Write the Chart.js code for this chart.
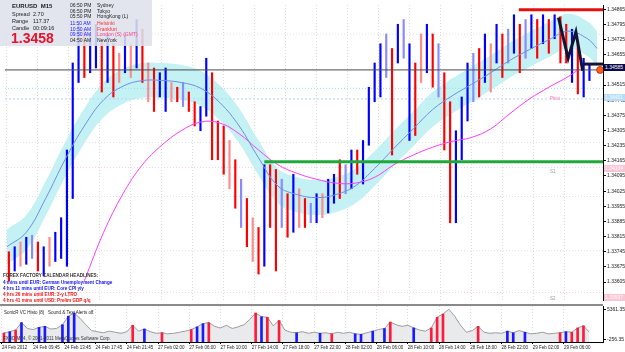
<!DOCTYPE html>
<html>
<head>
<meta charset="utf-8">
<title>EURUSD M15</title>
<script src="https://cdn.jsdelivr.net/npm/chart.js@4.4.1/dist/chart.umd.min.js"></script>
<style>
  body { margin: 0; width: 625px; height: 352px; overflow: hidden; position: relative; background: #fff; font-family: "Liberation Sans", Arial, sans-serif; }
  canvas { position: absolute; left: 0; }
  #main { top: 0; }
  #sub { top: 305px; }
  .t { position: absolute; white-space: nowrap; line-height: 1; }
  #sep { position: absolute; left: 0; top: 304px; width: 603px; height: 2px; background: #8a8a8a; }
  #info { position: absolute; left: 0; top: 0; width: 152px; height: 46px; background: rgba(222, 224, 236, 0.88); }
  #info .t { font-size: 5px; color: #222; }
  .hl { font-size: 4.6px; font-weight: bold; left: 3px; }
  .box { position: absolute; left: 604px; width: 21px; height: 7px; font-size: 5px; line-height: 7px; padding-left: 1px; box-sizing: border-box; }
</style>
</head>
<body>
<canvas id="main" width="625" height="305"></canvas>
<canvas id="sub" width="625" height="47"></canvas>
<div id="sep"></div>

<div id="info">
  <div class="t" style="left:12px;top:3px;font-size:6px;font-weight:bold;">EURUSD&nbsp;&nbsp;M15</div>
  <div class="t" style="left:12px;top:11.5px;font-size:5.5px;">Spread</div>
  <div class="t" style="left:33px;top:11.5px;font-size:5.5px;">2.70</div>
  <div class="t" style="left:12px;top:18.5px;font-size:5.5px;">Range</div>
  <div class="t" style="left:33px;top:18.5px;font-size:5.5px;">117.37</div>
  <div class="t" style="left:12px;top:25.5px;font-size:5.5px;">Candle</div>
  <div class="t" style="left:33px;top:25.5px;font-size:5.5px;">00:09:16</div>
  <div class="t" style="left:11px;top:31px;font-size:14px;font-weight:bold;color:#e8102a;">1.3458</div>

  <div class="t" style="left:70px;top:3px;">06:50 PM</div>
  <div class="t" style="left:97px;top:3px;">Sydney</div>
  <div class="t" style="left:70px;top:8.5px;">06:50 PM</div>
  <div class="t" style="left:97px;top:8.5px;">Tokyo</div>
  <div class="t" style="left:70px;top:14px;">05:50 PM</div>
  <div class="t" style="left:97px;top:14px;">HongKong (L)</div>
  <div class="t" style="left:70px;top:21px;color:#2020ff;">11:50 AM</div>
  <div class="t" style="left:97px;top:21px;color:#ff3030;">Helsinki</div>
  <div class="t" style="left:70px;top:26.5px;color:#2020ff;">10:50 AM</div>
  <div class="t" style="left:97px;top:26.5px;color:#ff3030;">Frankfurt</div>
  <div class="t" style="left:70px;top:32px;color:#2020ff;">09:50 AM</div>
  <div class="t" style="left:97px;top:32px;color:#ff4080;">London (S) (GMT)</div>
  <div class="t" style="left:70px;top:37.5px;">04:50 AM</div>
  <div class="t" style="left:97px;top:37.5px;">NewYork</div>
</div>

<div class="t hl" style="top:273.5px;color:#333;">FOREX FACTORY CALENDAR HEADLINES:</div>
<div class="t hl" style="top:281px;color:#1010ff;">4 mins until EUR: German Unemployment Change</div>
<div class="t hl" style="top:287px;color:#1010ff;">4 hrs 11 mins until EUR: Core CPI y/y</div>
<div class="t hl" style="top:292.5px;color:#ff1010;">4 hrs 26 mins until EUR: 3-y LTRO</div>
<div class="t hl" style="top:298.5px;color:#ff1010;">4 hrs 41 mins until USD: Prelim GDP q/q</div>

<div class="t" style="left:550px;top:96.5px;font-size:4.5px;color:#ff70b0;">Pivot</div>
<div class="t" style="left:550px;top:169.5px;font-size:4.5px;color:#999;">S1</div>
<div class="t" style="left:550px;top:296.5px;font-size:4.5px;color:#999;">S2</div>

<div class="t" style="left:4px;top:310.5px;font-size:4.5px;color:#222;">SonicR VC Histo (8)&nbsp;&nbsp;&nbsp;Sound &amp; Text Alerts off.</div>
<div class="t" style="left:3px;top:336.5px;font-size:4.5px;color:#333;">FXDD MT4, © 2001-2011 MetaQuotes Software Corp.</div>

<div class="box" style="top:64px;background:#0a0a4a;color:#fff;">1.34585</div>
<div class="box" style="top:94px;background:#b8ddf8;color:#f4faff;">1.34451</div>
<div class="box" style="top:165px;background:#ffc4d4;color:#fff;">1.34134</div>
<div class="box" style="top:294px;background:#ffc4d4;color:#fff;">1.33557</div>

<script>
// candle i sits on M15 bar firstBar + barStep * i (every 3rd bar is drawn)
const firstBar = 1, barStep = 3;

const highs = [
  1.33745, 1.33768, 1.33790, 1.33812, 1.33821, 1.33790, 1.33768, 1.33812, 1.33835, 1.33902,
  1.34215, 1.34617, 1.34796, 1.34773, 1.34751, 1.34796, 1.34729, 1.34751, 1.34706, 1.34662,
  1.34751, 1.34706, 1.34818, 1.34773, 1.34617, 1.34594, 1.34572, 1.34594, 1.34527, 1.34505,
  1.34527, 1.34483, 1.34438, 1.34416, 1.34639, 1.34572, 1.34349, 1.34326, 1.34259, 1.34170,
  1.34080, 1.33991, 1.33902, 1.33857, 1.34147, 1.34147, 1.34125, 1.34080, 1.34013, 1.34103,
  1.34036, 1.33991, 1.33969, 1.34013, 1.34013, 1.34080, 1.34103, 1.34170, 1.34147, 1.34215,
  1.34215, 1.34259, 1.34505, 1.34617, 1.34706, 1.34751, 1.34684, 1.34796, 1.34818, 1.34706,
  1.34617, 1.34751, 1.34796, 1.34751, 1.34706, 1.34572, 1.34438, 1.34304, 1.34460, 1.34617,
  1.34662, 1.34684, 1.34751, 1.34706, 1.34796, 1.34751, 1.34773, 1.34840, 1.34796, 1.34818,
  1.34840, 1.34818, 1.34840, 1.34818, 1.34840, 1.34831, 1.34796, 1.34773, 1.34706, 1.34639,
  1.34608
];
const lows = [
  1.33611, 1.33656, 1.33678, 1.33687, 1.33714, 1.33656, 1.33633, 1.33678, 1.33700, 1.33714,
  1.33678, 1.33991, 1.34527, 1.34550, 1.34572, 1.34594, 1.34483, 1.34527, 1.34460, 1.34527,
  1.34572, 1.34550, 1.34594, 1.34527, 1.34438, 1.34393, 1.34460, 1.34393, 1.34438, 1.34438,
  1.34416, 1.34393, 1.34326, 1.34304, 1.34371, 1.34170, 1.34170, 1.34103, 1.34036, 1.33946,
  1.33857, 1.33768, 1.33700, 1.33642, 1.33678, 1.33857, 1.33656, 1.33857, 1.33812, 1.33835,
  1.33857, 1.33857, 1.33879, 1.33879, 1.33902, 1.33924, 1.33969, 1.33991, 1.34013, 1.34036,
  1.34103, 1.34058, 1.34237, 1.34438, 1.34460, 1.34550, 1.34192, 1.34617, 1.34639, 1.34259,
  1.34282, 1.34527, 1.34572, 1.34505, 1.34460, 1.34215, 1.33879, 1.33879, 1.34170, 1.34349,
  1.34438, 1.34460, 1.34527, 1.34483, 1.34617, 1.34550, 1.34617, 1.34662, 1.34572, 1.34639,
  1.34684, 1.34639, 1.34706, 1.34662, 1.34729, 1.34617, 1.34617, 1.34527, 1.34474, 1.34460,
  1.34536
];
// B/b = up candle (blue), R/r = down candle (red); lower case = pale
const dirs = "RBrBbRBrBB" + "BBBRBBRBRr" + "BrBRrRBBrR" + "bRRBBRRRrR" + "bRrRBRRbRB" +
             "rRbBrBBRbB" + "RBBBBbRBbB" + "RrBRbRRBBB" + "bRBrBRbBRb" + "BRBRBRRBRB" + "B";

// volume histogram (lower pane)
const vols = [
  1050, 1300, 1600, 3000, 1900, 1700, 2100, 2300, 1800, 1900,
  2600, 4200, 4800, 3800, 2600, 1500, 1300, 1100, 1400, 1200,
  1000, 1300, 2500, 1400, 1800, 1300, 1000, 1100, 900, 1000,
  1200, 1400, 1700, 2200, 2800, 3000, 2300, 2000, 2500, 1900,
  2200, 2600, 3600, 4800, 4100, 4000, 2400, 3400, 1600, 1200,
  1100, 1300, 1000, 1200, 1000, 1100, 900, 1200, 1000, 1200,
  900, 800, 1100, 1400, 1700, 1900, 3100, 2600, 2300, 2500,
  2000, 1600, 1400, 2000, 4000, 4600, 5500, 4200, 2500, 1200,
  1500, 2300, 1200, 1000, 1100, 1000, 1400, 1100, 1500, 1200,
  900, 1000, 1200, 900, 1000, 1100, 1300, 1200, 2000, 2400,
  1200
];
// which volume bars are highlighted: r = red, b = blue, . = none
const histCols = "rbrb..bb.." + "bbb......." + "..r.b..r.." + "..rbbr...." + "...rbr.r.." +
                 "b...b.r..." + "bb.b.br..." + "b..rrr...." + ".r....bb.b" + ".....rbrrr" + ".";

// moving average with its envelope band
const maBars = [0, 10, 20, 30, 40, 50, 60, 70, 80, 90, 100, 110, 120, 130, 140, 150,
                160, 170, 180, 190, 200, 210, 220, 230, 240, 250, 260, 270, 280, 290, 300, 305];
const maMid = [1.33768, 1.33835, 1.33991, 1.34170, 1.34326, 1.34447, 1.34510, 1.34536, 1.34536, 1.34527,
               1.34501, 1.34434, 1.34326, 1.34179, 1.34049, 1.34009, 1.33995, 1.34009, 1.34049, 1.34130,
               1.34223, 1.34313, 1.34402, 1.34465, 1.34518, 1.34572, 1.34630, 1.34679, 1.34724, 1.34764,
               1.34729, 1.34684];
const bandTop = [1.33848, 1.33915, 1.34071, 1.34250, 1.34407, 1.34527, 1.34590, 1.34617, 1.34617, 1.34608,
                 1.34581, 1.34514, 1.34407, 1.34259, 1.34130, 1.34089, 1.34076, 1.34089, 1.34130, 1.34210,
                 1.34304, 1.34393, 1.34483, 1.34545, 1.34599, 1.34653, 1.34711, 1.34760, 1.34805, 1.34845,
                 1.34809, 1.34764];
const bandBot = [1.33687, 1.33754, 1.33911, 1.34089, 1.34246, 1.34366, 1.34429, 1.34456, 1.34456, 1.34447,
                 1.34420, 1.34353, 1.34246, 1.34098, 1.33969, 1.33928, 1.33915, 1.33928, 1.33969, 1.34049,
                 1.34143, 1.34232, 1.34322, 1.34384, 1.34438, 1.34492, 1.34550, 1.34599, 1.34644, 1.34684,
                 1.34648, 1.34603];

// slow magenta average
const magBars = [40, 50, 60, 70, 80, 90, 100, 110, 120, 130, 140, 150, 160, 170,
                 180, 190, 200, 210, 220, 230, 240, 250, 260, 270, 280, 290, 295];
const magVals = [1.33611, 1.33835, 1.34013, 1.34147, 1.34237, 1.34304, 1.34344, 1.34340, 1.34290, 1.34215,
                 1.34147, 1.34107, 1.34080, 1.34062, 1.34062, 1.34089, 1.34147, 1.34192, 1.34228, 1.34255,
                 1.34273, 1.34313, 1.34384, 1.34451, 1.34505, 1.34554, 1.34585];

// zigzag swing line at the right
const zigBars = [285, 290, 294, 297.5];
const zigVals = [1.34827, 1.34639, 1.34760, 1.34581];

// horizontal levels
const roundLevels = [1.3475, 1.3450, 1.3425, 1.3400, 1.3375];
const bidPrice = 1.34585;
const pivotLevel = 1.34451, s1Level = 1.34134, s2Level = 1.33557;
const topLine = 1.34863, greenLine = 1.34161, swingLine = 1.34612;

const priceTicks = [1.34865, 1.34795, 1.34725, 1.34655, 1.34585, 1.34515, 1.34445, 1.34375, 1.34305, 1.34235,
                    1.34165, 1.34095, 1.34025, 1.33955, 1.33885, 1.33815, 1.33745, 1.33675, 1.33605, 1.33535];
const histTicks = [-256.35, 5361.35];
const timeLabels = ['24 Feb 2012', '24 Feb 09:45', '24 Feb 13:45', '24 Feb 17:45', '24 Feb 21:45',
                    '27 Feb 02:00', '27 Feb 06:00', '27 Feb 10:00', '27 Feb 14:00', '27 Feb 18:00',
                    '27 Feb 22:00', '28 Feb 02:00', '28 Feb 06:00', '28 Feb 10:00', '28 Feb 14:00',
                    '28 Feb 18:00', '28 Feb 22:00', '29 Feb 02:00', '29 Feb 06:00'];

// ------------------------------------------------------------
const X_MIN = -1, X_MAX = 308;
const barOf = i => firstBar + barStep * i;
const timeTickBars = timeLabels.map((_, k) => k * 16);
const colorOf = { B: '#0000ff', b: '#8a8aff', R: '#ff0000', r: '#ff8a8a' };

function hline(price, x0, x1, color, width, dash, order) {
  return {
    type: 'line',
    data: [{ x: x0, y: price }, { x: x1, y: price }],
    borderColor: color, borderWidth: width, borderDash: dash || [],
    pointRadius: 0, fill: false, order: order
  };
}

const candles = highs.map((h, i) => ({ x: barOf(i), y: [lows[i], h] }));

const mainDatasets = [
  { type: 'line', data: maBars.map((b, k) => ({ x: b, y: bandTop[k] })), borderColor: 'rgba(0,0,0,0)',
    pointRadius: 0, tension: 0.4, fill: false, order: 20 },
  { type: 'line', data: maBars.map((b, k) => ({ x: b, y: bandBot[k] })), borderColor: 'rgba(0,0,0,0)',
    backgroundColor: '#c4f1f4', pointRadius: 0, tension: 0.4, fill: '-1', order: 20 }
];
roundLevels.forEach(p => mainDatasets.push(hline(p, X_MIN, X_MAX, p === 1.3450 ? '#8fe0f0' : '#e0e0e0', 1, [1, 2], 18)));
mainDatasets.push(
  hline(pivotLevel, X_MIN, X_MAX, '#b4daf6', 1, [2, 2], 17),
  hline(s1Level, X_MIN, X_MAX, '#ffd0dc', 1, [1, 2], 17),
  hline(s2Level, X_MIN, X_MAX, '#ffd0dc', 1, [1, 2], 17),
  { type: 'bar', data: candles, backgroundColor: candles.map((_, i) => colorOf[dirs[i]]),
    barThickness: 1.5, order: 10 },
  { type: 'line', data: maBars.map((b, k) => ({ x: b, y: maMid[k] })), borderColor: '#6f8fe6',
    borderWidth: 1, pointRadius: 0, tension: 0.4, fill: false, order: 6 },
  { type: 'line', data: magBars.map((b, k) => ({ x: b, y: magVals[k] })), borderColor: '#ff3cff',
    borderWidth: 1, pointRadius: 0, tension: 0.4, fill: false, order: 6 },
  hline(bidPrice, X_MIN, X_MAX, '#4a4a4a', 1, [], 5),
  hline(greenLine, 133, X_MAX, '#1fa83a', 3, [], 4),
  hline(topLine, 264.5, X_MAX, '#e41010', 3, [], 4),
  hline(swingLine, 298, X_MAX, '#141438', 3, [], 3),
  { type: 'line', data: zigBars.map((b, k) => ({ x: b, y: zigVals[k] })), borderColor: '#141430',
    borderWidth: 3, pointRadius: 0, tension: 0, fill: false, order: 2 },
  { type: 'line', data: [{ x: 306.5, y: bidPrice }], showLine: false, pointRadius: 3.5,
    pointBackgroundColor: '#ff5a1e', pointBorderColor: '#c83c10', pointBorderWidth: 1, order: 1 }
);

new Chart(document.getElementById('main'), {
  type: 'bar',
  data: { datasets: mainDatasets },
  options: {
    responsive: false, animation: false,
    layout: { padding: 0 },
    plugins: { legend: { display: false }, tooltip: { enabled: false } },
    scales: {
      x: {
        type: 'linear', min: X_MIN, max: X_MAX, offset: false,
        ticks: { display: false },
        grid: { offset: false, color: '#dedede', drawTicks: false },
        border: { display: false, dash: [1, 2] },
        afterBuildTicks: s => { s.ticks = timeTickBars.map(v => ({ value: v })); },
        afterFit: s => { s.height = 0; s.paddingLeft = 0; s.paddingRight = 0; }
      },
      y: {
        position: 'right', min: 1.33522, max: 1.34885,
        ticks: { font: { size: 5, family: 'Liberation Sans' }, color: '#222', padding: 1,
                 autoSkip: false, callback: v => v.toFixed(5) },
        grid: { drawOnChartArea: false, color: '#000', tickLength: 3 },
        border: { display: true, color: '#000', width: 1 },
        afterBuildTicks: s => { s.ticks = priceTicks.map(v => ({ value: v })); },
        afterFit: s => { s.width = 22; s.paddingTop = 0; s.paddingBottom = 0; }
      }
    }
  }
});

// lower pane: volume line with highlighted bars
const volPoints = vols.map((v, i) => ({ x: barOf(i), y: v }));
const HIST_MIN = -631, HIST_MAX = 6110;
const histBars = [];
const histColors = [];
vols.forEach((v, i) => {
  if (histCols[i] === '.') return;
  histBars.push({ x: barOf(i), y: [HIST_MIN, v] });
  histColors.push(histCols[i] === 'r' ? '#ff1a3c' : '#1a1aff');
});

new Chart(document.getElementById('sub'), {
  type: 'bar',
  data: {
    datasets: [
      { type: 'bar', data: histBars, backgroundColor: histColors, barThickness: 2, order: 1 },
      { type: 'line', data: volPoints, borderColor: '#9c9c9c', borderWidth: 1, backgroundColor: '#e8eaec',
        fill: 'start', pointRadius: 0, tension: 0, order: 2 }
    ]
  },
  options: {
    responsive: false, animation: false,
    layout: { padding: { top: 1 } },
    plugins: { legend: { display: false }, tooltip: { enabled: false } },
    scales: {
      x: {
        type: 'linear', min: X_MIN, max: X_MAX, offset: false,
        ticks: { font: { size: 4.5, family: 'Liberation Sans' }, color: '#222', align: 'start',
                 padding: 1, autoSkip: false, maxRotation: 0, minRotation: 0,
                 callback: (v, k) => timeLabels[k] },
        grid: { offset: false, color: '#dedede', tickColor: '#000', tickLength: 2 },
        border: { display: true, color: '#000', width: 1, dash: [1, 2] },
        afterBuildTicks: s => { s.ticks = timeTickBars.map(v => ({ value: v })); },
        afterFit: s => { s.height = 10; s.paddingLeft = 0; s.paddingRight = 0; }
      },
      y: {
        position: 'right', min: HIST_MIN, max: HIST_MAX,
        ticks: { font: { size: 5, family: 'Liberation Sans' }, color: '#222', padding: 1,
                 autoSkip: false, callback: v => v.toFixed(2) },
        grid: { drawOnChartArea: false, color: '#000', tickLength: 3 },
        border: { display: true, color: '#000', width: 1 },
        afterBuildTicks: s => { s.ticks = histTicks.map(v => ({ value: v })); },
        afterFit: s => { s.width = 22; s.paddingTop = 0; s.paddingBottom = 0; }
      }
    }
  }
});
</script>
</body>
</html>
